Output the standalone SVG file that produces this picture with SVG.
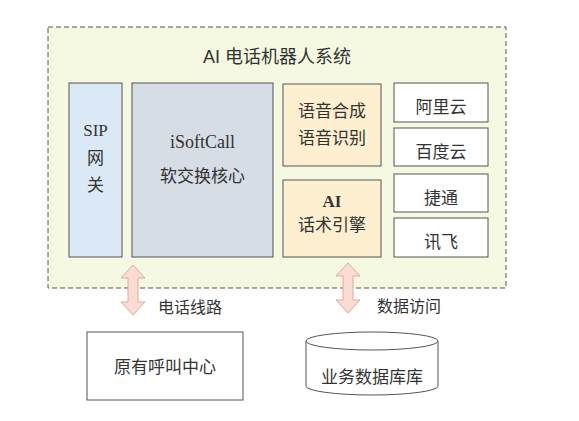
<svg xmlns="http://www.w3.org/2000/svg" width="579" height="421" viewBox="0 0 579 421">
<style>
.t{font-family:"Liberation Serif","Noto Sans CJK SC",serif;font-size:17px;fill:#333;text-anchor:middle}
.box{stroke:#555;stroke-width:1}
.arr{fill:#fadcd2;stroke:#e2aa98;stroke-width:1}
</style>
<rect width="579" height="421" fill="#fff"/>
<g id="system">
<rect x="48" y="27" width="458" height="261" fill="#f6f9e2" stroke="#555" stroke-width="1" stroke-dasharray="5,3"/>
<text x="277" y="63" class="t" style="font-family:'Liberation Sans','Noto Sans CJK SC',sans-serif;font-size:18px">AI 电话机器人系统</text>
</g>
<g id="sip">
<rect class="box" x="69" y="83" width="53" height="174" fill="#dbe9f6"/>
<text class="t" x="95.5" y="136">SIP</text>
<text class="t" x="95.5" y="164">网</text>
<text class="t" x="95.5" y="191">关</text>
</g>
<g id="isoftcall">
<rect class="box" x="132" y="83" width="141" height="174" fill="#d6dde5"/>
<text class="t" x="202.5" y="148" style="font-size:18px">iSoftCall</text>
<text class="t" x="202.5" y="182">软交换核心</text>
</g>
<g id="speech">
<rect class="box" x="283" y="84" width="98" height="82" fill="#fdefd0"/>
<text class="t" x="332" y="117">语音合成</text>
<text class="t" x="332" y="144">语音识别</text>
</g>
<g id="ai">
<rect class="box" x="283" y="180" width="98" height="77" fill="#fdefd0"/>
<text class="t" x="332" y="207" font-weight="bold">AI</text>
<text class="t" x="332" y="231">话术引擎</text>
</g>
<g id="aliyun">
<rect class="box" x="394" y="83" width="94" height="39" fill="#fff"/>
<text class="t" x="441" y="113">阿里云</text>
</g>
<g id="baidu">
<rect class="box" x="394" y="128" width="94" height="38" fill="#fff"/>
<text class="t" x="441" y="158">百度云</text>
</g>
<g id="jietong">
<rect class="box" x="394" y="174" width="94" height="38" fill="#fff"/>
<text class="t" x="441" y="204">捷通</text>
</g>
<g id="xunfei">
<rect class="box" x="394" y="218" width="94" height="39" fill="#fff"/>
<text class="t" x="441" y="248">讯飞</text>
</g>
<g id="callcenter">
<rect class="box" x="87" y="332" width="156" height="68" fill="#fff"/>
<text class="t" x="165" y="373">原有呼叫中心</text>
</g>
<g id="database">
<path d="M306,341 L306,386 A66,9 0 0 0 438,386 L438,341" fill="#fff" stroke="#555"/>
<ellipse cx="372" cy="341" rx="66" ry="9" fill="#fff" stroke="#555"/>
<text class="t" x="372" y="383">业务数据库库</text>
</g>
<g id="connectors">
<path class="arr" d="M133,265 L145,278 L138,278 L138,302 L145,302 L133,315 L121,302 L128,302 L128,278 L121,278 Z"/>
<text class="t" x="158" y="313" style="text-anchor:start;font-size:16px">电话线路</text>
<path class="arr" d="M348,263 L360,276 L353,276 L353,300 L360,300 L348,313 L336,300 L343,300 L343,276 L336,276 Z"/>
<text class="t" x="377" y="312" style="text-anchor:start;font-size:16px">数据访问</text>
</g>
</svg>
